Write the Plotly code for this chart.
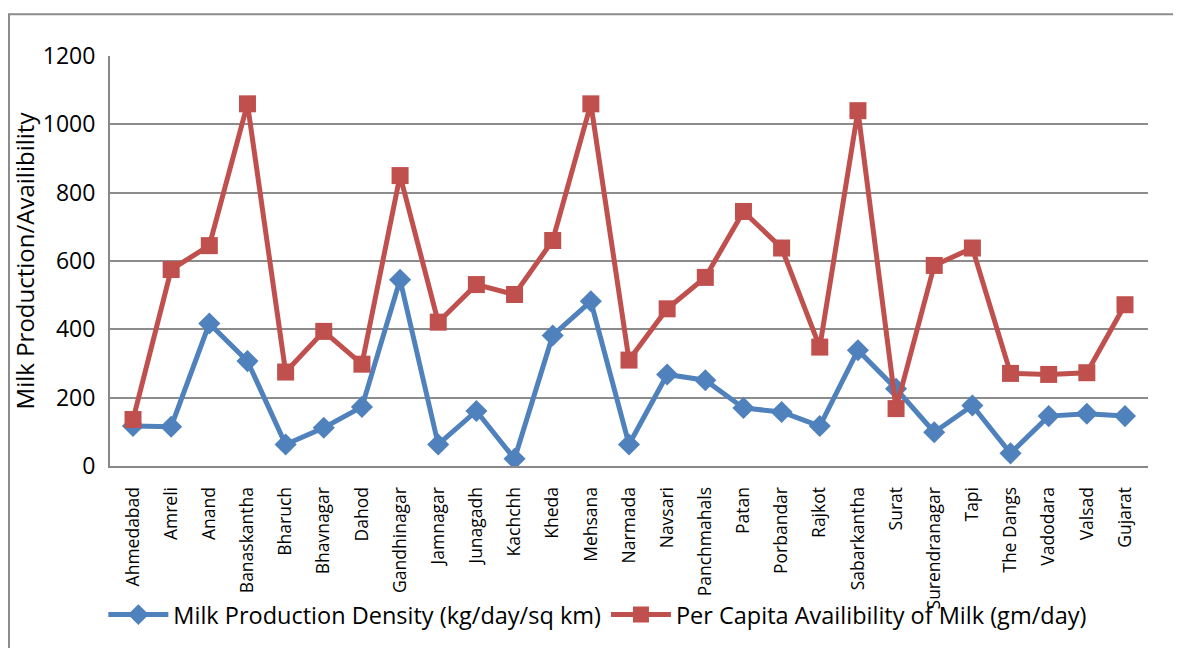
import plotly.graph_objects as go

districts = ["Ahmedabad", "Amreli", "Anand", "Banaskantha", "Bharuch", "Bhavnagar", "Dahod",
             "Gandhinagar", "Jamnagar", "Junagadh", "Kachchh", "Kheda", "Mehsana", "Narmada",
             "Navsari", "Panchmahals", "Patan", "Porbandar", "Rajkot", "Sabarkantha", "Surat",
             "Surendranagar", "Tapi", "The Dangs", "Vadodara", "Valsad", "Gujarat"]

density = [117, 115, 417, 307, 63, 112, 173, 545, 63, 161, 21, 382, 482, 63,
           268, 251, 170, 158, 117, 339, 226, 99, 177, 37, 146, 153, 146]

per_capita = [136, 575, 645, 1060, 275, 394, 298, 850, 421, 531, 502, 660, 1060, 310,
              460, 552, 745, 638, 348, 1040, 168, 587, 638, 271, 268, 273, 472]

y_ticks = [0, 200, 400, 600, 800, 1000, 1200]

BLUE = "#4F81BD"
RED = "#C0504D"
FONT = "Open Sans, Noto Sans, sans-serif"

fig = go.Figure()
fig.add_trace(go.Scatter(
    x=districts, y=density, mode="lines+markers",
    name="Milk Production Density (kg/day/sq km)",
    line=dict(color=BLUE, width=5),
    marker=dict(symbol="diamond", size=17, color=BLUE),
))
fig.add_trace(go.Scatter(
    x=districts, y=per_capita, mode="lines+markers",
    name="Per Capita Availibility of Milk (gm/day)",
    line=dict(color=RED, width=5),
    marker=dict(symbol="square", size=17, color=RED),
))

fig.update_layout(
    width=1181, height=648,
    margin=dict(l=102, r=41, t=48, b=190),
    paper_bgcolor="white", plot_bgcolor="white",
    font=dict(family=FONT, color="black"),
    showlegend=True,
    legend=dict(orientation="h", x=0.47, xanchor="center", y=-0.363, yanchor="middle",
                font=dict(size=23.5, family=FONT), itemwidth=60, traceorder="normal",
                bgcolor="rgba(0,0,0,0)"),
    xaxis=dict(
        type="category", range=[-0.603, len(districts) - 0.397],
        tickangle=-90, tickfont=dict(size=17.5, family=FONT),
        showgrid=False, showline=True, linecolor="#888888", linewidth=2,
        ticks="", fixedrange=True, automargin=False, ticklabelstandoff=12,
    ),
    yaxis=dict(
        range=[0, 1200], tickvals=y_ticks, ticktext=[str(v) for v in y_ticks],
        tickfont=dict(size=23, family=FONT),
        showgrid=True, gridcolor="#8c8c8c", gridwidth=1.5,
        showline=True, linecolor="#888888", linewidth=2,
        zeroline=False, ticks="", ticklabelstandoff=8, automargin=False,
        title=dict(text="Milk Production/Availibility", font=dict(size=24, family=FONT),
                   standoff=10),
    ),
    shapes=[dict(type="rect", xref="paper", yref="paper",
                 x0=-0.0973, x1=1.2, y0=-0.6, y1=1.102,
                 line=dict(color="#8c8c8c", width=2), fillcolor="rgba(0,0,0,0)",
                 layer="below")],
)

fig.write_html("out.html")
